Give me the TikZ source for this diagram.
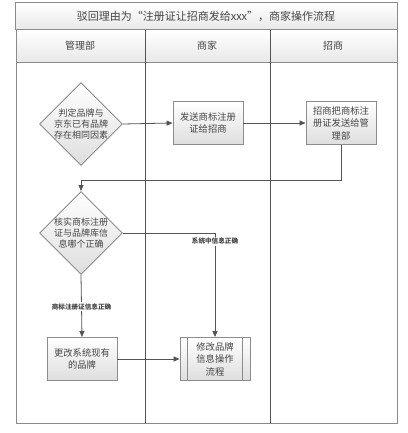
\documentclass[tikz,border=0pt]{standalone}
\usepackage{fontspec}
\newfontfamily\cjk{Noto Sans CJK SC}
\usetikzlibrary{shapes.geometric,arrows.meta}
\definecolor{lanecol}{HTML}{8A8A8A}
\definecolor{divcol}{HTML}{555555}
\definecolor{txtcol}{HTML}{444444}
\tikzset{
  boxfill/.style={top color=white,bottom color=black!13,draw=black!45,line width=0.9pt},
  procbox/.style={boxfill,rectangle,minimum width=70pt,minimum height=43pt,inner sep=1pt,
     align=center,font=\cjk\fontsize{9.3}{12.5}\selectfont,text=txtcol},
  diabox/.style={boxfill,diamond,minimum width=83pt,minimum height=83pt,inner sep=0pt},
  diatext/.style={align=center,font=\cjk\fontsize{9}{11}\selectfont,text=txtcol},
  conn/.style={draw=divcol,line width=0.8pt,-{Triangle[length=6pt,width=5pt]}},
  edgelabel/.style={fill=white,inner sep=1pt,font=\cjk\fontsize{6.6}{8}\selectfont\bfseries,text=txtcol},
  headtext/.style={font=\cjk\fontsize{10}{12}\selectfont,text=txtcol},
}
\begin{document}
\begin{tikzpicture}[x=1pt,y=-1pt]
\useasboundingbox (0,0) rectangle (407,433);
\fill[white] (0,0) rectangle (407,433);
% title band
\shade[top color=white,bottom color=black!9] (15,3) rectangle (397,30);
\draw[lanecol,line width=1pt] (15,3) rectangle (397,30);
\node[headtext,font=\cjk\fontsize{11}{13}\selectfont] (title) at (206,16.5) {驳回理由为“注册证让招商发给xxx”，商家操作流程};
% header row
\shade[top color=white,bottom color=black!9] (16,30) rectangle (397,62);
\draw[lanecol,line width=1pt] (16,30) rectangle (397,423);
\draw[lanecol,line width=0.8pt] (16,62) -- (397,62);
\draw[divcol,line width=0.9pt] (145,30) -- (145,423);
\draw[divcol,line width=0.9pt] (270,30) -- (270,423);
\node[headtext] (h1) at (80,46) {管理部};
\node[headtext] (h2) at (207,46) {商家};
\node[headtext] (h3) at (333,46) {招商};
% shapes
\node[diabox] (d1) at (81,124) {};
\node[diatext] (d1t) at (d1) {判定品牌与\\京东已有品牌\\存在相同因素};
\node[procbox] (b1) at (208,123) {发送商标注册\\证给招商};
\node[procbox] (b3) at (341,123) {招商把商标注\\册证发送给管\\理部};
\node[diabox] (d2) at (81,233) {};
\node[diatext] (d2t) at (d2) {核实商标注册\\证与品牌库信\\息哪个正确};
\node[procbox] (b4) at (82,359) {更改系统现有\\的品牌};
\node[procbox] (b5) at (215,359) {修改品牌\\信息操作\\流程};
\draw[black!45,line width=0.9pt] ([xshift=8pt]b5.north west) -- ([xshift=8pt]b5.south west)
  ([xshift=-8pt]b5.north east) -- ([xshift=-8pt]b5.south east);
% connectors
\draw[conn] (d1.east) -- (b1.west);
\draw[conn] (b1.east) -- (b3.west);
\draw[conn] (b3.south) |- (81,180) -- (d2.north);
\draw[conn] (d2.east) -| node[edgelabel,pos=0.54] (l1) {系统中信息正确} (b5.north);
\draw[conn] (d2.south) -- node[edgelabel,pos=0.51] (l2) {商标注册证信息正确} (b4.north);
\draw[conn] (b4.east) -- (b5.west);
\end{tikzpicture}
\end{document}
